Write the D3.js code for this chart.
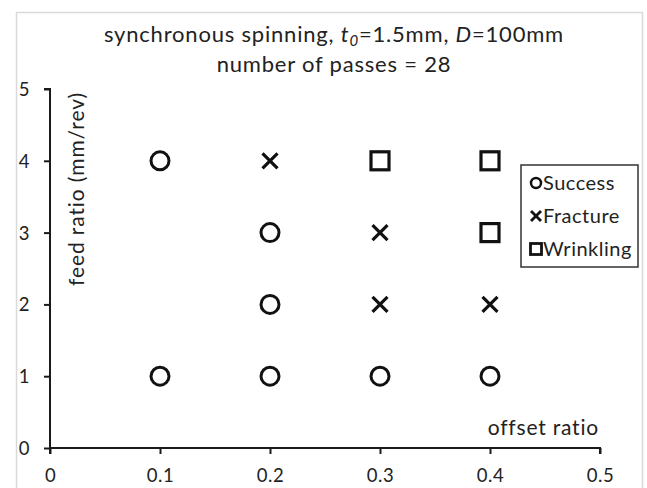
<!DOCTYPE html>
<html>
<head>
<meta charset="utf-8">
<script src="https://cdn.jsdelivr.net/npm/d3@7"></script>
<style>
  html, body { margin: 0; padding: 0; background: #fff; }
  svg { display: block; }
  text { font-family: Lato, "Open Sans", sans-serif; fill: #222; }
</style>
</head>
<body>
<svg id="chart" width="647" height="488"></svg>
<script>
// Process window outcomes: offset ratio (x) vs feed ratio (y)
const successOffset = [0.1, 0.1, 0.2, 0.2, 0.2, 0.3, 0.4];
const successFeed   = [4,   1,   3,   2,   1,   1,   1];
const fractureOffset = [0.2, 0.3, 0.3, 0.4];
const fractureFeed   = [4,   3,   2,   2];
const wrinklingOffset = [0.3, 0.4, 0.4];
const wrinklingFeed   = [4,   4,   3];
const xTicks = [0, 0.1, 0.2, 0.3, 0.4, 0.5];
const yTicks = [0, 1, 2, 3, 4, 5];
const legendLabels = ["Success", "Fracture", "Wrinkling"];

const svg = d3.select("#chart");

// outer chart frame
svg.append("rect")
  .attr("x", 16.5).attr("y", 12.5).attr("width", 626).attr("height", 490)
  .attr("fill", "none").attr("stroke", "#d9d9d9").attr("stroke-width", 1.5);

const x = d3.scaleLinear().domain([0, 0.5]).range([50, 600]);
const y = d3.scaleLinear().domain([0, 5]).range([448, 89]);

// axes
const xAxis = d3.axisBottom(x).tickValues(xTicks).tickSize(6).tickFormat(d => d === 0 ? "0" : d3.format(".1f")(d));
const yAxis = d3.axisLeft(y).tickValues(yTicks).tickSize(6).tickFormat(d3.format("d"));

const gx = svg.append("g").attr("transform", `translate(0,${y(0)})`).call(xAxis);
const gy = svg.append("g").attr("transform", `translate(${x(0)},0)`).call(yAxis);
[gx, gy].forEach(g => {
  g.select(".domain").attr("stroke", "#1a1a1a").attr("stroke-width", 2);
  g.selectAll(".tick line").attr("stroke", "#1a1a1a").attr("stroke-width", 2);
  g.selectAll(".tick text").style("font-family", "Lato, sans-serif").attr("font-size", 18.5)
    .attr("fill", "#333").style("letter-spacing", "0.5px");
});
gx.select(".domain").attr("d", `M${x(0)},6V0H${x(0.5)}V6`);
gy.select(".domain").attr("d", `M-6,${y(5)}H0V${y(0)}`);
gx.selectAll(".tick text").attr("y", 34).attr("dy", null);
gy.selectAll(".tick text").attr("x", -20).attr("dy", "0.35em");

// titles
const title = svg.append("text").attr("x", 334).attr("y", 42).attr("text-anchor", "middle")
  .attr("font-size", 22).style("letter-spacing", "0.8px");
title.append("tspan").text("synchronous spinning, ");
title.append("tspan").attr("font-style", "italic").text("t");
title.append("tspan").attr("font-style", "italic").attr("font-size", 15).attr("dy", 4).text("0");
title.append("tspan").attr("dy", -4).text("=1.5mm, ");
title.append("tspan").attr("font-style", "italic").text("D");
title.append("tspan").text("=100mm");

svg.append("text").attr("x", 334).attr("y", 72).attr("text-anchor", "middle")
  .attr("font-size", 22).style("letter-spacing", "0.8px")
  .text("number of passes = 28");

svg.append("text").attr("x", 599).attr("y", 435).attr("text-anchor", "end")
  .attr("font-size", 21).style("letter-spacing", "0.8px")
  .text("offset ratio");

svg.append("text").attr("transform", "translate(84,189) rotate(-90)").attr("text-anchor", "middle")
  .attr("font-size", 21).style("letter-spacing", "0.9px")
  .text("feed ratio (mm/rev)");

// marker shapes
function drawCircle(g, cx, cy, r, sw) {
  g.append("circle").attr("cx", cx).attr("cy", cy).attr("r", r)
    .attr("fill", "none").attr("stroke", "#111").attr("stroke-width", sw);
}
function drawCross(g, cx, cy, h, sw) {
  g.append("path").attr("d", `M${cx-h},${cy-h}L${cx+h},${cy+h}M${cx-h},${cy+h}L${cx+h},${cy-h}`)
    .attr("stroke", "#111").attr("stroke-width", sw).attr("fill", "none");
}
function drawSquare(g, cx, cy, h, sw) {
  g.append("rect").attr("x", cx-h).attr("y", cy-h).attr("width", 2*h).attr("height", 2*h)
    .attr("fill", "none").attr("stroke", "#111").attr("stroke-width", sw);
}

const marks = svg.append("g");
successOffset.forEach((o, i) => drawCircle(marks, x(o), y(successFeed[i]), 9, 3));
fractureOffset.forEach((o, i) => drawCross(marks, x(o), y(fractureFeed[i]), 7.5, 3.2));
wrinklingOffset.forEach((o, i) => drawSquare(marks, x(o), y(wrinklingFeed[i]), 9, 3.2));

// legend
const lg = svg.append("g");
lg.append("rect").attr("x", 521).attr("y", 165).attr("width", 117).attr("height", 102)
  .attr("fill", "#fff").attr("stroke", "#333").attr("stroke-width", 1.5);
const ly = [183, 216, 249];
drawCircle(lg, 536, ly[0], 5, 2.5);
drawCross(lg, 536, ly[1], 5, 2.8);
drawSquare(lg, 536, ly[2], 5.5, 2.8);
legendLabels.forEach((t, i) => {
  lg.append("text").attr("x", 543).attr("y", ly[i]).attr("dy", "0.35em")
    .attr("font-size", 20).style("letter-spacing", "0.5px").text(t);
});
</script>
</body>
</html>
